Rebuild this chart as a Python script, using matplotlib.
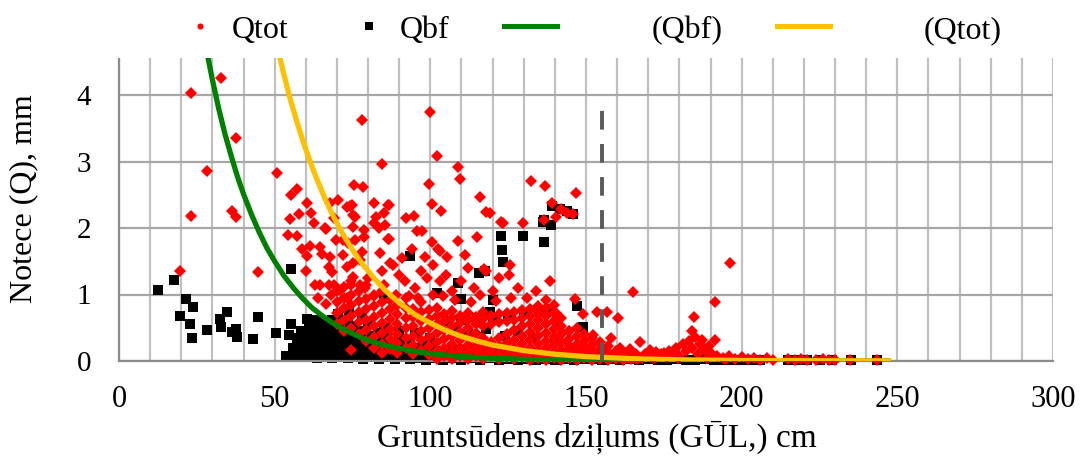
import matplotlib
matplotlib.use("Agg")
import matplotlib.pyplot as plt
from matplotlib.lines import Line2D
from matplotlib.patches import Rectangle
from matplotlib.ticker import MultipleLocator

plt.rcParams['font.family'] = ['Liberation Serif', 'DejaVu Serif']

# Qtot points (depth cm, runoff mm)
qtot_far = [
    (19.6, 1.36), (23.0, 2.18), (23.1, 4.03), (32.7, 4.25), (37.6, 3.35), (28.4, 2.85), (36.2, 2.25), (37.6, 2.16),
    (44.8, 1.34), (50.7, 2.82), (78.0, 3.63), (84.5, 2.96), (99.8, 3.74), (102.2, 3.08), (108.8, 2.91), (109.6, 2.74),
    (99.6, 2.66), (115.8, 2.46), (117.8, 2.24), (119.3, 2.22), (122.8, 2.09), (123.2, 2.07), (129.8, 2.07), (115.0, 1.86),
    (132.2, 2.71), (136.7, 2.63), (146.9, 2.53), (139.0, 2.37), (141.9, 2.29), (144.0, 2.23), (145.8, 2.21), (140.5, 2.17),
    (136.4, 2.12), (196.1, 1.48), (191.3, 0.88), (165.0, 1.04), (100.6, 2.36), (92.3, 2.15), (94.9, 2.18), (95.7, 1.96),
    (97.3, 1.96), (100.6, 1.79), (102.4, 1.68), (103.2, 1.66), (105.4, 1.56), (94.2, 1.69), (98.2, 1.56), (86.4, 2.35),
    (86.4, 1.83), (103.5, 2.25), (125.7, 1.44), (109.0, 1.80), (111.0, 1.60),
]

qtot_cloud = [
    (55.3, 2.50), (57.1, 2.59), (54.8, 2.14), (57.7, 2.21), (54.4, 1.90), (57.1, 1.88), (60.3, 2.37), (61.6, 2.22),
    (62.5, 2.07), (58.7, 1.68), (60.3, 1.58), (60.1, 1.36), (61.4, 1.73), (63.0, 1.15), (64.6, 1.14), (67.3, 1.14),
    (68.9, 1.14), (64.6, 1.72), (65.2, 1.61), (67.8, 1.57), (67.3, 1.42), (68.4, 1.34), (66.2, 2.00), (67.8, 2.37),
    (70.3, 2.42), (69.1, 2.15), (73.2, 2.32), (74.8, 2.35), (75.3, 2.20), (75.6, 2.65), (78.4, 2.62), (75.3, 2.02),
    (78.6, 1.97), (72.1, 1.82), (75.9, 1.82), (81.8, 2.38), (85.0, 2.22), (81.8, 2.07), (85.5, 2.05), (86.6, 2.35),
    (86.6, 1.83), (78.0, 1.64), (83.9, 1.62), (84.5, 1.36), (86.9, 1.47), (75.3, 1.47), (73.2, 1.42), (77.5, 1.52),
    (75.3, 1.27), (71.1, 1.07), (73.2, 0.94), (74.5, 1.14), (77.5, 1.14), (66.5, 1.99), (74.3, 2.33), (75.9, 2.16),
    (82.4, 2.16), (83.4, 2.00), (78.8, 1.86), (73.5, 1.78), (69.7, 1.82), (71.9, 1.60), (88.0, 1.45), (90.0, 1.30),
    (92.0, 1.20), (95.0, 1.10), (97.0, 1.35), (99.0, 1.25), (101.0, 1.45), (103.0, 1.20), (105.0, 1.30), (107.0, 1.05),
    (110.0, 1.20), (112.0, 1.40), (114.0, 1.10), (118.0, 1.35), (120.0, 1.05), (122.0, 1.25), (125.2, 1.30), (126.0, 0.95),
    (117.1, 1.39), (100.7, 1.00), (96.0, 0.95), (89.0, 1.00), (85.0, 1.15), (80.0, 1.25), (82.0, 1.00), (79.0, 1.10),
    (91.0, 1.55), (93.0, 0.98), (104.0, 0.98), (108.0, 0.92), (113.0, 0.88), (116.0, 1.00), (121.0, 0.90), (128.0, 1.10),
    (131.0, 0.95), (134.0, 1.05), (137.0, 0.92), (138.5, 1.20), (64.0, 0.95), (66.5, 0.85), (68.0, 1.00),
]

# dense part of Qtot, read column by column
qtot_cols = [
    (70.0, [0.55, 0.72, 0.88, 1.05]),
    (72.3, [0.45, 0.62, 0.80, 0.95, 1.12]),
    (74.6, [0.16, 0.50, 0.68, 0.84, 1.00, 1.20]),
    (77.1, [0.40, 0.58, 0.74, 0.90, 1.05]),
    (79.4, [0.30, 0.46, 0.62, 0.78, 0.93, 1.15]),
    (82.0, [0.20, 0.36, 0.52, 0.66, 0.82, 0.98]),
    (84.6, [0.12, 0.26, 0.42, 0.57, 0.72, 0.88, 1.05]),
    (87.0, [0.18, 0.33, 0.48, 0.63, 0.78, 0.92]),
    (89.4, [0.12, 0.27, 0.40, 0.55, 0.70, 0.84]),
    (92.1, [0.20, 0.35, 0.50, 0.64, 0.80, 0.95]),
    (94.5, [0.10, 0.24, 0.38, 0.52, 0.66, 0.78]),
    (97.0, [0.17, 0.31, 0.45, 0.60, 0.74, 0.88]),
    (99.6, [0.09, 0.22, 0.36, 0.50, 0.63, 0.76]),
    (102.0, [0.03, 0.15, 0.28, 0.42, 0.56, 0.68, 0.80]),
    (104.5, [0.08, 0.20, 0.33, 0.46, 0.60, 0.70]),
    (107.1, [0.03, 0.14, 0.26, 0.38, 0.52, 0.64, 0.75]),
    (109.5, [0.08, 0.19, 0.31, 0.44, 0.57, 0.68]),
    (112.0, [0.03, 0.13, 0.24, 0.36, 0.50, 0.62, 0.72]),
    (114.6, [0.07, 0.18, 0.30, 0.42, 0.56, 0.66]),
    (117.0, [0.03, 0.12, 0.23, 0.35, 0.52, 0.63, 0.74]),
    (119.5, [0.07, 0.17, 0.28, 0.55, 0.67]),
    (122.0, [0.03, 0.11, 0.22, 0.34, 0.58, 0.70]),
    (124.6, [0.06, 0.16, 0.27, 0.40, 0.60, 0.72]),
    (127.0, [0.03, 0.10, 0.20, 0.32, 0.47, 0.62, 0.74]),
    (129.5, [0.06, 0.15, 0.26, 0.38, 0.52, 0.65, 0.76]),
    (132.1, [0.02, 0.10, 0.20, 0.31, 0.44, 0.56, 0.68, 0.78]),
    (134.5, [0.05, 0.14, 0.25, 0.37, 0.50, 0.62, 0.74, 0.82]),
    (137.0, [0.02, 0.09, 0.19, 0.30, 0.42, 0.55, 0.67, 0.80]),
    (139.6, [0.05, 0.13, 0.24, 0.36, 0.48, 0.60, 0.72, 0.84]),
    (142.0, [0.02, 0.08, 0.17, 0.28, 0.40, 0.52, 0.64]),
    (144.5, [0.04, 0.12, 0.22, 0.33, 0.45]),
    (147.0, [0.02, 0.08, 0.16, 0.26, 0.38, 0.50]),
    (149.5, [0.04, 0.11, 0.20, 0.30, 0.40]),
    (152.0, [0.02, 0.07, 0.15, 0.24, 0.34]),
    (154.6, [0.03, 0.10, 0.18, 0.28]),
    (157.0, [0.02, 0.06, 0.13, 0.22]),
    (159.5, [0.03, 0.08, 0.15]),
    (162.0, [0.02, 0.06, 0.11]),
    (164.5, [0.03, 0.07]),
]

qtot_tail = [
    (140.5, 0.72), (142.3, 0.42), (144.5, 0.45), (146.4, 0.93), (149.0, 0.71), (152.3, 0.39), (153.6, 0.73), (156.6, 0.73),
    (158.1, 0.34), (160.3, 0.64), (161.0, 0.20), (163.0, 0.12), (164.0, 0.18), (166.0, 0.10), (167.2, 0.28), (168.0, 0.05),
    (169.0, 0.11), (170.0, 0.08), (170.5, 0.16), (172.0, 0.04), (172.5, 0.14), (174.0, 0.10), (175.0, 0.12), (176.0, 0.06),
    (177.0, 0.09), (178.0, 0.12), (179.0, 0.20), (180.0, 0.08), (181.0, 0.25), (182.0, 0.15), (183.0, 0.30), (184.0, 0.20),
    (184.2, 0.45), (184.7, 0.66), (185.0, 0.36), (186.0, 0.10), (187.3, 0.31), (188.0, 0.18), (189.0, 0.05), (190.0, 0.12),
    (191.3, 0.31), (192.0, 0.08), (194.0, 0.05), (196.0, 0.07), (198.0, 0.03), (200.0, 0.06), (202.0, 0.03), (204.0, 0.05),
    (206.0, 0.02), (208.0, 0.04), (210.0, 0.02), (215.0, 0.03), (217.0, 0.02), (219.0, 0.03), (221.0, 0.02), (224.0, 0.02),
    (226.0, 0.03), (228.0, 0.02), (230.0, 0.02), (234.7, 0.02), (243.4, 0.02), (186.5, 0.25), (189.5, 0.22), (176.5, 0.15),
    (171.0, 0.06), (173.5, 0.07), (179.5, 0.04), (195.0, 0.03), (163.5, 0.05), (166.5, 0.03),
]

# Qbf points
qbf_far = [
    (12.6, 1.07), (17.8, 1.22), (21.5, 0.93), (23.7, 0.81), (19.6, 0.68), (22.8, 0.56), (23.4, 0.34), (28.4, 0.47),
    (32.3, 0.63), (34.6, 0.73), (32.7, 0.51), (36.2, 0.43), (37.6, 0.48), (37.8, 0.36), (43.2, 0.33), (44.8, 0.66),
    (50.5, 0.42), (55.3, 1.38), (55.3, 0.56), (54.6, 0.39), (57.2, 0.35), (60.5, 0.63), (61.4, 0.48), (60.3, 0.37),
    (64.6, 0.51), (65.9, 0.34), (70.2, 0.71), (73.9, 0.73), (78.0, 0.67), (93.6, 1.58), (108.8, 1.17), (109.8, 0.93),
    (115.5, 1.32), (117.4, 1.35), (102.3, 1.02), (119.3, 0.74), (125.2, 0.64), (123.2, 1.49), (123.0, 1.67), (122.8, 1.88),
    (129.7, 1.88), (136.4, 1.79), (136.3, 2.09), (139.1, 2.33), (141.8, 2.29), (144.0, 2.25), (145.8, 2.21), (136.4, 2.12),
    (138.6, 2.05), (147.2, 0.82), (149.0, 0.51), (140.7, 0.57), (120.0, 0.92), (85.0, 0.95),
]

qbf_mid = [
    (105.0, 0.60), (110.0, 0.62), (115.0, 0.65), (120.0, 0.66), (125.0, 0.68), (130.0, 0.70), (135.0, 0.74), (138.0, 0.78),
    (108.0, 0.50), (118.0, 0.48), (128.0, 0.45), (112.0, 0.40), (124.0, 0.38), (133.0, 0.35), (140.0, 0.30), (145.0, 0.20),
    (100.0, 0.35), (95.0, 0.42), (90.0, 0.45), (85.0, 0.50), (80.0, 0.55),
]

qbf_cols = [
    (56.0, [0.08, 0.20]),
    (58.5, [0.06, 0.18, 0.30, 0.45]),
    (61.0, [0.08, 0.20, 0.32, 0.55]),
    (63.5, [0.05, 0.16, 0.28, 0.40, 0.62]),
    (66.0, [0.08, 0.20, 0.32, 0.45, 0.58]),
    (68.5, [0.05, 0.15, 0.27, 0.38, 0.50, 0.62]),
    (71.0, [0.08, 0.19, 0.30, 0.42, 0.55]),
    (73.5, [0.04, 0.14, 0.25, 0.36, 0.48, 0.60]),
    (76.0, [0.07, 0.18, 0.29, 0.40, 0.52]),
    (78.5, [0.03, 0.12, 0.22, 0.33, 0.45]),
    (81.0, [0.07, 0.16, 0.27, 0.38]),
    (83.5, [0.03, 0.11, 0.20, 0.30, 0.42]),
    (86.0, [0.06, 0.15, 0.24, 0.34]),
    (88.5, [0.03, 0.10, 0.19, 0.28]),
    (91.0, [0.06, 0.14, 0.22, 0.32]),
    (93.5, [0.03, 0.09, 0.17, 0.26]),
    (96.0, [0.05, 0.12, 0.20]),
    (98.5, [0.02, 0.08, 0.16, 0.25]),
    (101.0, [0.05, 0.12, 0.20]),
    (104.0, [0.02, 0.08, 0.15]),
    (107.0, [0.04, 0.11, 0.20]),
    (110.0, [0.02, 0.07, 0.14]),
    (113.0, [0.04, 0.10, 0.18]),
    (116.0, [0.02, 0.07, 0.13]),
    (119.0, [0.04, 0.09, 0.16]),
    (122.0, [0.02, 0.06, 0.12]),
    (125.0, [0.03, 0.08, 0.15]),
    (128.0, [0.02, 0.06, 0.11]),
    (131.0, [0.03, 0.08]),
    (134.0, [0.02, 0.06, 0.12]),
    (137.0, [0.03, 0.08]),
    (140.0, [0.02, 0.06]),
    (143.0, [0.03, 0.08]),
    (146.0, [0.02, 0.05]),
    (149.0, [0.03, 0.07]),
]

qbf_floor = [
    (53.8, 0.08), (152.0, 0.03), (155.0, 0.02), (158.0, 0.03), (161.0, 0.02), (164.0, 0.03), (167.0, 0.02), (170.0, 0.03),
    (173.0, 0.02), (176.0, 0.02), (179.0, 0.03), (182.0, 0.02), (185.0, 0.02), (188.0, 0.03), (191.0, 0.02), (194.0, 0.02),
    (197.0, 0.02), (200.0, 0.02), (203.0, 0.02), (206.0, 0.02), (215.0, 0.02), (218.0, 0.02), (221.0, 0.02), (225.0, 0.02),
    (229.0, 0.02), (235.0, 0.02), (243.5, 0.02),
]

# trend lines, points
fit_bf_x = [26, 28, 30, 32, 34, 36, 38, 40, 42.5, 45, 47.5, 50, 53, 56, 59, 62, 65, 68, 72, 76, 80, 85, 90, 95, 100,
            110, 120, 135, 150, 175, 200, 248]
fit_bf_y = [5.21, 4.70, 4.23, 3.80, 3.42, 3.09, 2.78, 2.51, 2.21, 1.94, 1.70, 1.50, 1.28, 1.10, 0.94, 0.80, 0.69, 0.59,
            0.48, 0.39, 0.31, 0.24, 0.19, 0.144, 0.111, 0.066, 0.039, 0.018, 0.008, 0.002, 0.001, 0.0]
fit_tot_x = [49, 51, 53, 55, 57, 59, 61, 63, 66, 69, 72, 75, 78, 82, 86, 90, 95, 100, 105, 110, 115, 120, 130, 140,
             150, 165, 180, 200, 225, 248]
fit_tot_y = [5.11, 4.69, 4.30, 3.94, 3.62, 3.32, 3.05, 2.80, 2.46, 2.16, 1.90, 1.67, 1.47, 1.24, 1.04, 0.875, 0.70, 0.57,
             0.46, 0.37, 0.30, 0.24, 0.157, 0.102, 0.066, 0.035, 0.018, 0.008, 0.003, 0.001]

gul_x = 155
gul_top = 3.95


def unpack(pts):
    return [p[0] for p in pts], [p[1] for p in pts]


def unpack_cols(cols):
    xs, ys = [], []
    for x, col in cols:
        for y in col:
            xs.append(x)
            ys.append(y)
    return xs, ys


tot_x, tot_y = [], []
for part in (unpack(qtot_far), unpack(qtot_cloud), unpack_cols(qtot_cols), unpack(qtot_tail)):
    tot_x += part[0]
    tot_y += part[1]
bf_x, bf_y = [], []
for part in (unpack(qbf_far), unpack(qbf_mid), unpack_cols(qbf_cols), unpack(qbf_floor)):
    bf_x += part[0]
    bf_y += part[1]

W, H = 1081, 457
fig = plt.figure(figsize=(W / 100, H / 100), dpi=100)
ax = fig.add_axes([119 / W, 1 - 361 / H, (1053 - 119) / W, (361 - 28.5) / H])

ax.plot(bf_x, bf_y, ls='none', marker='s', ms=6.6, color='black', mew=0, zorder=2, clip_on=False)
ax.plot(tot_x, tot_y, ls='none', marker='D', ms=5.8, color='#ff0000', mew=0, zorder=3, clip_on=False)
ax.plot(fit_bf_x, fit_bf_y, color='#008000', lw=3.8, zorder=4, solid_capstyle='butt')
ax.plot(fit_tot_x, fit_tot_y, color='#ffc000', lw=3.8, zorder=5, solid_capstyle='butt')
ax.plot([gul_x, gul_x], [0, gul_top], color='#595959', lw=2.8, ls=(0, (4.8, 3.7)), zorder=6)

ax.set_xlim(0, 300)
ax.set_ylim(0, 5)
ax.set_xticks([0, 50, 100, 150, 200, 250, 300])
ax.set_yticks([0, 1, 2, 3, 4, 5])
ax.xaxis.set_minor_locator(MultipleLocator(10))
ax.grid(which='both', axis='x', color='#c0c0c0', lw=1.6, zorder=0)
ax.grid(which='major', axis='y', color='#a6a6a6', lw=1.6, zorder=0)
ax.set_axisbelow(True)
ax.tick_params(axis='x', which='both', length=0, labelsize=22, pad=17)
ax.tick_params(axis='y', which='both', length=0, labelsize=21, pad=20)
for s in ('top', 'right'):
    ax.spines[s].set_visible(False)
for s in ('left', 'bottom'):
    ax.spines[s].set_color('#8c8c8c')
    ax.spines[s].set_linewidth(1.6)

fig.text(597 / W, 1 - 437 / H, 'Gruntsūdens dziļums (GŪL,) cm', fontsize=24, ha='center', va='center')
fig.text(24 / W, 1 - 199 / H, 'Notece (Q), mm', fontsize=23, ha='center', va='center', rotation=90)

# legend strip on top of the plot
fig.add_artist(Rectangle((77 / W, 1 - 58 / H), 1 - 77 / W, 58 / H, transform=fig.transFigure,
                         facecolor='white', edgecolor='none', zorder=5))
ly = 1 - 26 / H
fig.add_artist(Line2D([200 / W], [ly], marker='o', ms=4.4, color='#ff0000', mew=0, ls='none', zorder=6))
fig.add_artist(Line2D([369 / W], [ly], marker='s', ms=5.4, color='black', mew=0, ls='none', zorder=6))
fig.add_artist(Line2D([504 / W, 557 / W], [ly, ly], color='#008000', lw=3.6, zorder=6))
fig.add_artist(Line2D([777 / W, 830 / W], [ly, ly], color='#ffc000', lw=3.6, zorder=6))
for x0, txt in ((232, 'Qtot'), (400, 'Qbf'), (652, '(Qbf)'), (924, '(Qtot)')):
    fig.text(x0 / W, 1 - 38 / H, txt, fontsize=23, ha='left', va='baseline', zorder=7)

fig.savefig('out.png', dpi=100)
